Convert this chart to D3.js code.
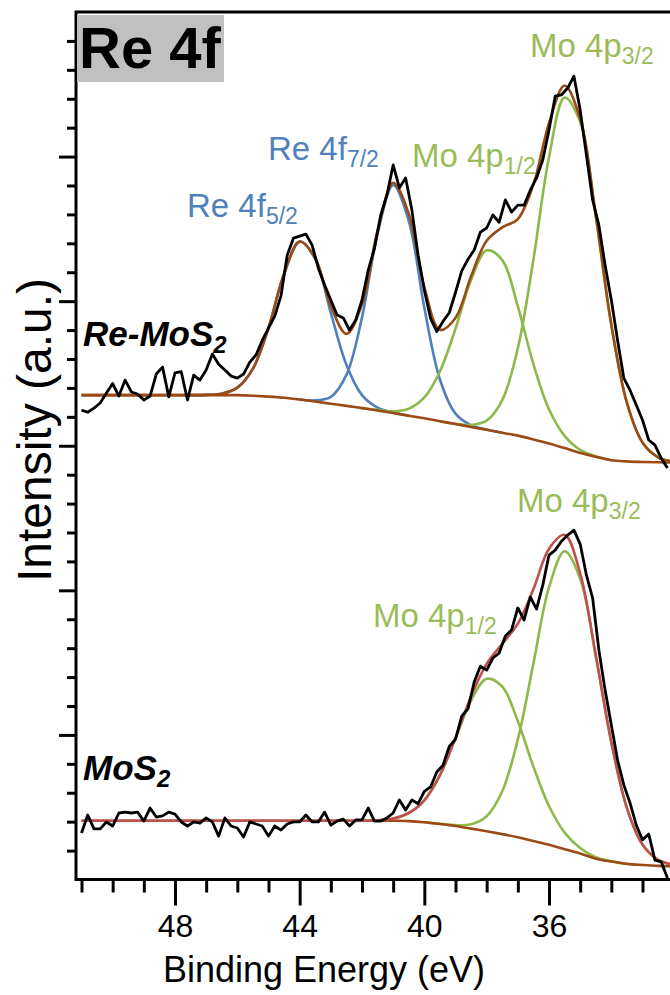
<!DOCTYPE html>
<head>
    <meta charset="utf-8">
    <title>Re 4f XPS</title>
    <script src="https://d3js.org/d3.v7.min.js"></script>
    <style>
        body { margin: 0; background: #fff; }
        svg { display: block; font-family: "Liberation Sans", Arial, sans-serif; }
    </style>
</head>
<body>
<div id="container"></div>
<script>
    //----------------------------DATA------------------------------//
    // fit grid (binding energy, eV)
    const fitEnergies = [51, 50.5, 50, 49.5, 49, 48.5, 48, 47.5, 47, 46.5, 46, 45.5, 45, 44.5, 44, 43.5, 43, 42.5, 42, 41.5,
        41, 40.5, 40, 39.5, 39, 38.5, 38, 37.5, 37, 36.5, 36, 35.5, 35, 34.5, 34, 33.5, 33, 32.5, 32];

    // Re-MoS2: background and peak heights above it
    const bgReMoS2 = [16.75, 16.75, 16.75, 16.75, 16.75, 16.75, 16.75, 16.75, 16.75, 16.75, 16.75, 16.73, 16.70, 16.66, 16.60, 16.53, 16.45, 16.38, 16.30, 16.22,
        16.13, 16.04, 15.95, 15.85, 15.75, 15.65, 15.55, 15.45, 15.35, 15.22, 15.08, 14.92, 14.75, 14.62, 14.50, 14.46, 14.44, 14.43, 14.42];
    const re4f52 = [0, 0, 0, 0, 0, 0, 0, 0, 0.01, 0.05, 0.26, 0.94, 2.38, 4.29, 5.46, 4.92, 3.14, 1.42, 0.45, 0.10,
        0.02, 0, 0, 0, 0, 0, 0, 0, 0, 0, 0, 0, 0, 0, 0, 0, 0, 0, 0];
    const re4f72 = [0, 0, 0, 0, 0, 0, 0, 0, 0, 0, 0, 0, 0, 0, 0, 0.04, 0.24, 1.07, 3.14, 6.11,
        7.88, 6.74, 3.82, 1.44, 0.36, 0.06, 0.01, 0, 0, 0, 0, 0, 0, 0, 0, 0, 0, 0, 0];
    const mo4p12a = [0, 0, 0, 0, 0, 0, 0, 0, 0, 0, 0, 0, 0, 0, 0, 0, 0, 0, 0, 0.02,
        0.06, 0.24, 0.72, 1.72, 3.30, 5.08, 6.21, 5.97, 4.47, 2.60, 1.18, 0.42, 0.11, 0.02, 0, 0, 0, 0, 0];
    const mo4p32a = [0, 0, 0, 0, 0, 0, 0, 0, 0, 0, 0, 0, 0, 0, 0, 0, 0, 0, 0, 0,
        0, 0, 0, 0, 0.01, 0.07, 0.32, 1.13, 3.02, 6.22, 9.90, 12.12, 11.45, 8.33, 4.68, 2.02, 0.67, 0.17, 0.03];

    // MoS2: background and peak heights above it
    const bgMoS2 = [2.03, 2.03, 2.03, 2.03, 2.03, 2.03, 2.03, 2.03, 2.03, 2.03, 2.03, 2.03, 2.03, 2.03, 2.03, 2.03, 2.03, 2.03, 2.03, 2.03,
        2.03, 2.02, 1.98, 1.92, 1.85, 1.76, 1.67, 1.57, 1.46, 1.33, 1.20, 1.05, 0.90, 0.72, 0.62, 0.54, 0.50, 0.47, 0.46];
    const mo4p12b = [0, 0, 0, 0, 0, 0, 0, 0, 0, 0, 0, 0, 0, 0, 0, 0, 0, 0, 0, 0.02,
        0.08, 0.28, 0.76, 1.68, 3.03, 4.43, 5.27, 5.10, 4.01, 2.57, 1.34, 0.57, 0.19, 0.05, 0.01, 0, 0, 0, 0];
    const mo4p32b = [0, 0, 0, 0, 0, 0, 0, 0, 0, 0, 0, 0, 0, 0, 0, 0, 0, 0, 0, 0,
        0, 0, 0, 0.01, 0.03, 0.15, 0.52, 1.48, 3.38, 6.14, 8.90, 10.30, 9.50, 7.00, 4.12, 1.93, 0.71, 0.21, 0.05];

    // measured spectra
    const rawEnergies = [51, 50.8, 50.6, 50.4, 50.2, 50, 49.8, 49.6, 49.4, 49.2, 49, 48.8, 48.6, 48.4, 48.2, 48, 47.8, 47.6, 47.4, 47.2,
        47, 46.8, 46.6, 46.4, 46.2, 46, 45.8, 45.6, 45.4, 45.2, 45, 44.8, 44.6, 44.4, 44.2, 44, 43.8, 43.6, 43.4, 43.2,
        43, 42.8, 42.6, 42.4, 42.2, 42, 41.8, 41.6, 41.4, 41.2, 41, 40.8, 40.6, 40.4, 40.2, 40, 39.8, 39.6, 39.4, 39.2,
        39, 38.8, 38.6, 38.4, 38.2, 38, 37.8, 37.6, 37.4, 37.2, 37, 36.8, 36.6, 36.4, 36.2, 36, 35.8, 35.6, 35.4, 35.2,
        35, 34.8, 34.6, 34.4, 34.2, 34, 33.8, 33.6, 33.4, 33.2, 33, 32.8, 32.6, 32.4, 32.2];
    const rawReMoS2 = [16.23, 16.16, 16.30, 16.48, 16.82, 17.15, 16.72, 17.27, 16.86, 16.79,
        16.58, 16.72, 17.48, 17.72, 16.69, 17.52, 17.56, 16.58, 17.44, 17.27,
        17.62, 18.17, 17.82, 17.62, 17.41, 17.34, 17.48, 17.89, 18.14, 18.65,
        19.07, 19.48, 20.18, 21.59, 22.18, 22.25, 22.32, 21.94, 21.14, 20.56,
        20.04, 19.52, 19.42, 19.00, 19.35, 20.04, 21.07, 21.83, 22.97, 23.67,
        24.71, 23.92, 24.26, 23.15, 21.59, 20.38, 19.40, 18.95, 19.30, 19.60,
        20.30, 21.05, 21.45, 21.77, 22.39, 22.53, 22.98, 22.73, 23.50, 23.08,
        23.32, 23.32, 23.84, 24.26, 24.88, 25.92, 27.09, 27.13, 27.37, 27.78,
        26.61, 25.05, 23.50, 22.63, 21.25, 20.04, 18.65, 17.34, 16.92, 16.41,
        15.89, 15.20, 15.02, 14.57, 14.23];
    const rawMoS2 = [1.61, 2.23, 1.75, 1.75, 1.99, 1.85, 2.30, 2.33, 2.30, 2.33,
        2.02, 2.47, 2.16, 2.20, 2.33, 2.26, 1.99, 1.85, 1.99, 1.95,
        2.13, 1.99, 1.50, 2.13, 1.85, 1.78, 1.47, 1.99, 1.92, 1.85,
        1.50, 1.85, 1.71, 1.92, 1.99, 1.99, 2.23, 1.99, 1.99, 2.33,
        1.88, 2.02, 2.09, 1.85, 2.06, 2.06, 2.47, 2.02, 2.02, 2.13,
        2.30, 2.75, 2.40, 2.75, 2.62, 3.05, 3.20, 3.72, 3.95, 4.60,
        4.85, 5.65, 5.90, 6.83, 7.38, 7.24, 7.66, 7.83, 8.42, 8.63,
        9.39, 8.97, 9.77, 9.35, 10.18, 11.22, 11.39, 11.70, 11.91, 12.08,
        11.60, 10.53, 9.73, 7.94, 6.55, 5.34, 4.13, 3.27, 2.65, 1.88,
        1.37, 1.57, 0.67, 0.61, 0.05];

    const xMajorTicks = [48, 44, 40, 36];
    const xMinorTicks = [51, 50, 49, 47, 46, 45, 43, 42, 41, 39, 38, 37, 35, 34, 33];
    const yMajorTicks = [5, 10, 15, 20, 25];
    const yMinorTicks = [1, 2, 3, 4, 6, 7, 8, 9, 11, 12, 13, 14, 16, 17, 18, 19, 21, 22, 23, 24, 26, 27, 28, 29];

    //----------------------------SETUP-----------------------------//
    const width = 670;
    const height = 995;
    const plot = {left: 76, top: 12, right: 720, bottom: 879.5};

    const blue = "#4f81bd";
    const green = "#8db84a";
    const brown = "#9a4a12";
    const red = "#c0504d";

    const svg = d3.select("#container").append("svg")
        .attr("width", width)
        .attr("height", height);

    const x = d3.scaleLinear().domain([48, 36]).range([175, 549]);
    const y = d3.scaleLinear().domain([0, 30]).range([plot.bottom, plot.top]);

    svg.append("clipPath").attr("id", "clip")
        .append("rect")
        .attr("x", plot.left).attr("y", plot.top)
        .attr("width", plot.right - plot.left).attr("height", plot.bottom - plot.top);

    //----------------------------CURVES----------------------------//
    const g = svg.append("g").attr("clip-path", "url(#clip)");

    function fitLine(bg, peak) {
        return d3.line()
            .defined((d, i) => peak == null || peak[i] > 0 || peak[i - 1] > 0 || peak[i + 1] > 0)
            .x((d, i) => x(fitEnergies[i]))
            .y((d, i) => y(bg[i] + (peak ? peak[i] : 0)))
            .curve(d3.curveCatmullRom)(fitEnergies);
    }

    function envelope(bg, peaks) {
        return d3.line()
            .x((d, i) => x(fitEnergies[i]))
            .y((d, i) => y(bg[i] + d3.sum(peaks, p => p[i])))
            .curve(d3.curveCatmullRom)(fitEnergies);
    }

    const rawLine = d3.line()
        .x((d, i) => x(rawEnergies[i]))
        .y(d => y(d));

    // Re-MoS2
    [[re4f52, blue], [re4f72, blue], [mo4p12a, green], [mo4p32a, green]].forEach(function(c) {
        g.append("path").attr("d", fitLine(bgReMoS2, c[0]))
            .attr("fill", "none").attr("stroke", c[1]).attr("stroke-width", 2.6);
    });
    g.append("path").attr("d", fitLine(bgReMoS2, null))
        .attr("fill", "none").attr("stroke", brown).attr("stroke-width", 2.6);
    g.append("path").attr("d", envelope(bgReMoS2, [re4f52, re4f72, mo4p12a, mo4p32a]))
        .attr("fill", "none").attr("stroke", brown).attr("stroke-width", 2.6);
    g.append("path").attr("d", rawLine(rawReMoS2))
        .attr("fill", "none").attr("stroke", "#000").attr("stroke-width", 2.8)
        .attr("stroke-linejoin", "round");

    // MoS2
    [[mo4p12b, green], [mo4p32b, green]].forEach(function(c) {
        g.append("path").attr("d", fitLine(bgMoS2, c[0]))
            .attr("fill", "none").attr("stroke", c[1]).attr("stroke-width", 2.6);
    });
    g.append("path").attr("d", fitLine(bgMoS2, null))
        .attr("fill", "none").attr("stroke", brown).attr("stroke-width", 2.6);
    g.append("path").attr("d", envelope(bgMoS2, [mo4p12b, mo4p32b]))
        .attr("fill", "none").attr("stroke", red).attr("stroke-width", 2.6);
    g.append("path").attr("d", rawLine(rawMoS2))
        .attr("fill", "none").attr("stroke", "#000").attr("stroke-width", 2.8)
        .attr("stroke-linejoin", "round");

    //-----------------------------AXES-----------------------------//
    svg.append("rect")
        .attr("x", plot.left).attr("y", plot.top)
        .attr("width", plot.right - plot.left).attr("height", plot.bottom - plot.top)
        .attr("fill", "none").attr("stroke", "#000").attr("stroke-width", 3);

    const xMajor = svg.append("g")
        .attr("transform", "translate(0," + plot.bottom + ")")
        .call(d3.axisBottom(x).tickValues(xMajorTicks).tickSize(26).tickPadding(9).tickSizeOuter(0));
    const xMinor = svg.append("g")
        .attr("transform", "translate(0," + plot.bottom + ")")
        .call(d3.axisBottom(x).tickValues(xMinorTicks).tickSize(13).tickFormat("").tickSizeOuter(0));
    const yMajor = svg.append("g")
        .attr("transform", "translate(" + plot.left + ",0)")
        .call(d3.axisLeft(y).tickValues(yMajorTicks).tickSize(17).tickFormat("").tickSizeOuter(0));
    const yMinor = svg.append("g")
        .attr("transform", "translate(" + plot.left + ",0)")
        .call(d3.axisLeft(y).tickValues(yMinorTicks).tickSize(9).tickFormat("").tickSizeOuter(0));

    [xMajor, xMinor, yMajor, yMinor].forEach(function(a) {
        a.select(".domain").remove();
        a.selectAll(".tick line").attr("stroke", "#000").attr("stroke-width", 3);
    });
    xMajor.selectAll(".tick text")
        .attr("font-family", "Liberation Sans, Arial, sans-serif")
        .attr("font-size", 32).attr("fill", "#000");

    svg.append("text")
        .attr("x", 324).attr("y", 982)
        .attr("text-anchor", "middle")
        .attr("font-size", 36)
        .text("Binding Energy (eV)");

    svg.append("text")
        .attr("transform", "translate(51,430) rotate(-90)")
        .attr("text-anchor", "middle")
        .attr("font-size", 48)
        .text("Intensity (a.u.)");

    //----------------------------LABELS----------------------------//
    svg.append("rect")
        .attr("x", 77).attr("y", 15).attr("width", 147).attr("height", 67)
        .attr("fill", "#c0c0c0");
    svg.append("text")
        .attr("x", 79).attr("y", 68)
        .attr("font-size", 58).attr("font-weight", "bold")
        .text("Re 4f");

    function sampleLabel(px, py, main, sub) {
        const t = svg.append("text")
            .attr("x", px).attr("y", py)
            .attr("font-size", 35).attr("font-weight", "bold").attr("font-style", "italic");
        t.append("tspan").text(main);
        t.append("tspan").attr("font-size", 24).attr("dy", 7).text(sub);
    }
    sampleLabel(83, 346, "Re-MoS", "2");
    sampleLabel(83, 780, "MoS", "2");

    function peakLabel(px, py, main, sub, color) {
        const t = svg.append("text")
            .attr("x", px).attr("y", py)
            .attr("font-size", 33).attr("fill", color);
        t.append("tspan").text(main);
        t.append("tspan").attr("font-size", 23).attr("dy", 7).text(sub);
    }
    peakLabel(187, 217, "Re 4f", "5/2", blue);
    peakLabel(268, 160, "Re 4f", "7/2", blue);
    peakLabel(412, 167, "Mo 4p", "1/2", "#9bbb59");
    peakLabel(530, 57, "Mo 4p", "3/2", "#9bbb59");
    peakLabel(373, 627, "Mo 4p", "1/2", "#9bbb59");
    peakLabel(517, 512, "Mo 4p", "3/2", "#9bbb59");
</script>
</body>
